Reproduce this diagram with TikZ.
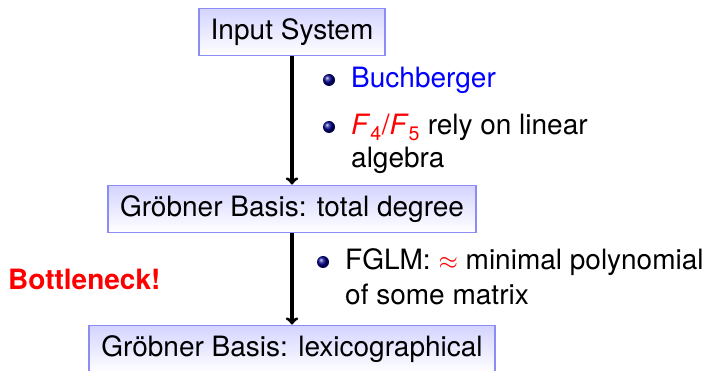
\documentclass[tikz,border=0pt]{standalone}
\usepackage{fontspec}
\setmainfont{TeX Gyre Heros}
\usetikzlibrary{arrows, positioning, calc}
\definecolor{boxline}{RGB}{140,140,245}
\definecolor{boxtop}{RGB}{212,212,255}
\newcommand{\bigfont}{\fontsize{28}{34}\selectfont}

\begin{document}
\begin{tikzpicture}[x=1pt, y=1pt,
    stage/.style={draw=boxline, line width=1.8pt,
                  top color=boxtop, bottom color=white,
                  inner xsep=12pt, minimum height=47pt, font=\bigfont},
    item/.style={anchor=base west, inner sep=0pt, font=\bigfont},
    ball/.style={ball color=blue!55!black},
    flow/.style={-to, line width=3.2pt}]
\useasboundingbox (0,0) rectangle (720,-371);

\node[stage] (input) at (292,-32)  {Input System};
\node[stage] (total) at (292,-209) {Gröbner Basis: total degree};
\node[stage] (lex)   at (292,-349) {Gröbner Basis: lexicographical};

\draw[flow] (input) -- (total);
\draw[flow] (total) -- (lex);

\node[item, text=blue] (buch) at (351,-88) {Buchberger};
\node[item] (rely)  at (351,-135)
    {\textcolor{red}{\textit{F}\textsubscript{4}/\textit{F}\textsubscript{5}} rely on linear};
\node[item] (rely2) at (351,-168) {algebra};
\node[item] (fglm)  at (345,-270)
    {FGLM: \textcolor{red}{$\approx$} minimal polynomial};
\node[item] (fglm2) at (345,-305) {of some matrix};

\node[item, text=red, font=\bigfont\bfseries] (neck) at (8,-290) {Bottleneck!};

%bullets
\shade[ball] ($(buch.base west)+(-22,8)$) circle (6);
\shade[ball] ($(rely.base west)+(-22,8)$) circle (6);
\shade[ball] ($(fglm.base west)+(-22,8)$) circle (6);
\end{tikzpicture}
\end{document}
